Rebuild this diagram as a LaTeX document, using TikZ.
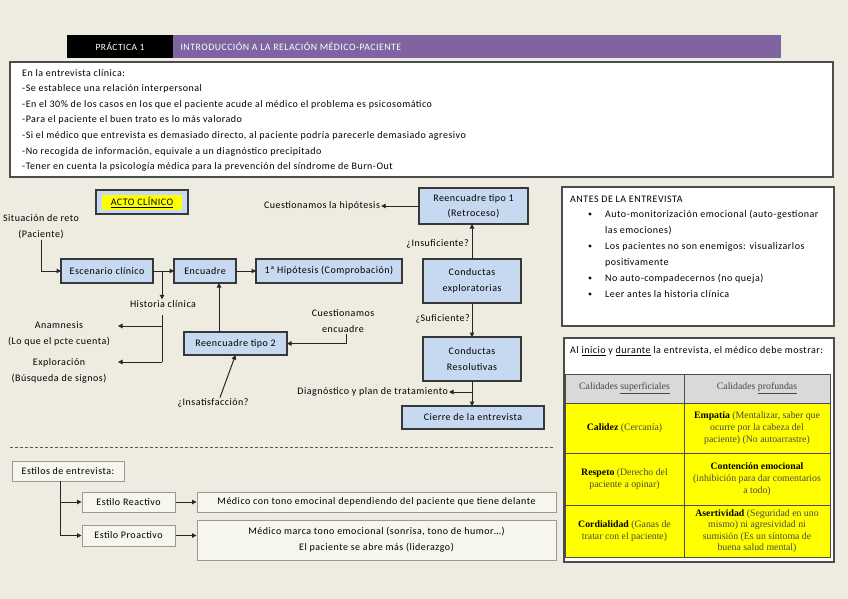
\documentclass[tikz,border=0pt]{standalone}
\usepackage{fontspec}
\setmainfont{Carlito}[LetterSpace=5]
\newfontfamily\tnr{Liberation Serif}
\usetikzlibrary{arrows.meta,calc}
\definecolor{bgc}{HTML}{EEECE1}
\definecolor{boxblue}{HTML}{C6D9F1}
\definecolor{hpurple}{HTML}{8064A2}
\definecolor{tgrey}{HTML}{D9D9D9}
\definecolor{ylw}{HTML}{FFFF00}
\newcommand\bx[7]{\node[#7, minimum width={(#4-#2)*1pt}, minimum height={(#5-#3)*1pt}] (#1) at ({(#2+#4)/2},{(#3+#5)/2}) {#6};}
\newcommand\bk[1]{\textcolor{black}{\textbf{#1}}}
\begin{document}
\begin{tikzpicture}[x=1pt,y=-1pt, font=\fontsize{10}{12}\selectfont,
  bluebox/.style={draw=black!78, fill=boxblue, line width=1.2pt, inner sep=0pt, outer sep=0pt, align=center},
  whitebox/.style={draw=black!70, fill=white, line width=1.1pt, inner sep=0pt},
  greybox/.style={draw=black!40, fill=white!45!bgc, line width=1pt, inner sep=0pt, align=center},
  cell/.style={draw=black!70, line width=0.8pt, inner sep=0pt, align=center, text=black!72, font=\tnr\fontsize{9.8}{12}\selectfont},
  arr/.style={-{Triangle[length=4.5pt,width=4.5pt]}, line width=1pt, draw=black!85},
  ln/.style={line width=1pt, draw=black!85},
  lbl/.style={inner sep=1pt, align=center},
  lines/.style={inner sep=1pt, align=center, font=\fontsize{10}{16}\selectfont},
  lines2/.style={font=\fontsize{10}{16.5}\selectfont}
]
\useasboundingbox (0,0) rectangle (848,599);
\fill[bgc] (0,0) rectangle (848,599);

% header
\bx{hdrA}{67}{35}{173}{58}{}{fill=black, inner sep=0pt}
\bx{hdrB}{173}{35}{781}{58}{}{fill=hpurple, inner sep=0pt}
\node[text=white, font=\fontsize{9.5}{10}\selectfont] (hdrAt) at (hdrA) {PRÁCTICA 1};
\node[text=white, anchor=west, font=\fontsize{9.8}{10}\selectfont] (hdrBt) at (177,46.5) {INTRODUCCIÓN A LA RELACIÓN MÉDICO-PACIENTE};

% intro box
\bx{intro}{10}{62}{833}{177}{}{whitebox}
\foreach \t [count=\i] in {{En la entrevista clínica:},
  {-Se establece una relación interpersonal},
  {-En el 30\% de los casos en los que el paciente acude al médico el problema es psicosomático},
  {-Para el paciente el buen trato es lo más valorado},
  {-Si el médico que entrevista es demasiado directo, al paciente podría parecerle demasiado agresivo},
  {-No recogida de información, equivale a un diagnóstico precipitado},
  {-Tener en cuenta la psicología médica para la prevención del síndrome de Burn-Out}}
  \node[anchor=base west, inner sep=0pt] (l\i) at (22,{76.5+15.5*(\i-1)}) {\t};

% acto clinico
\bx{acto}{96}{190}{188}{214}{}{bluebox}
\bx{actoy}{102}{195}{182}{210}{\underline{ACTO CLÍNICO}}{fill=ylw, inner sep=0pt}

\node[lines] (sit) at (41,227) {Situación de reto\\(Paciente)};
\bx{esc}{61}{259}{153}{283}{Escenario clínico}{bluebox}
\bx{enc}{174}{259}{236}{283}{Encuadre}{bluebox}
\bx{hip}{256}{259}{402}{283}{1ª Hipótesis (Comprobación)}{bluebox}
\draw[arr] (sit.south) |- (esc.west);
\draw[arr] (esc) -- (enc);
\draw[arr] (enc) -- (hip);

\coordinate (hb) at (162,271);
\node[lbl] (hist) at (163,304) {Historia clínica};
\draw[arr] (hb) -- (hb |- hist.north);
\coordinate (hv1) at (162,315);
\coordinate (ha) at (162,326);
\coordinate (hv2) at (162,362);
\coordinate (tipx) at (118,0);
\draw[ln] (hv1) -- (hv2);
\node[lines] (anam) at (59,334) {Anamnesis\\(Lo que el pcte cuenta)};
\node[lines] (expl) at (59,370.5) {Exploración\\(Búsqueda de signos)};
\draw[arr] (ha) -- (ha -| tipx);
\draw[arr] (hv2) -- (hv2 -| tipx);

\bx{re2}{184}{332}{287}{355}{Reencuadre tipo 2}{bluebox}
\coordinate (r2u) at (219,332);
\draw[arr] (r2u) -- (r2u |- enc.south);
\node[lbl] (insat) at (213,403) {¿Insatisfacción?};
\draw[arr] ([xshift=7pt]insat.north) -- (re2.south);
\node[lines] (cenc) at (343,321.5) {Cuestionamos\\encuadre};
\draw[arr] ([xshift=3pt]cenc.south) |- (re2.east);

% right column of flow
\bx{re1}{419}{188}{528}{224}{Reencuadre tipo 1\\(Retroceso)}{bluebox, font=\fontsize{10}{15.5}\selectfont}
\node[lbl] (chip) at (322,206) {Cuestionamos la hipótesis};
\draw[arr] (re1.west) -- (re1.west -| chip.east);
\bx{cexp}{423}{259}{521}{303}{Conductas\\exploratorias}{bluebox, lines2}
\draw[arr] (cexp.north) -- (cexp.north |- re1.south);
\node[lbl, anchor=east] (insu) at (470,244) {¿Insuficiente?};
\bx{cres}{423}{337}{521}{381}{Conductas\\Resolutivas}{bluebox, lines2}
\draw[arr] (cexp) -- (cres);
\node[lbl, anchor=east] (sufi) at (471,319) {¿Suficiente?};
\bx{cierre}{402}{406}{544}{429}{Cierre de la entrevista}{bluebox}
\draw[arr] (cres.south) -- (cres.south |- cierre.north);
\coordinate (db) at (472,392);
\node[lbl, anchor=east] (diag) at (449,392) {Diagnóstico y plan de tratamiento};
\draw[arr] (db) -- (diag.east);

% dashed separator
\coordinate (d1) at (10,447);
\coordinate (d2) at (553,447);
\draw[draw=black!65, line width=0.7pt, dash pattern=on 3pt off 2pt] (d1) -- (d2);

% antes box
\bx{antes}{562}{187}{834}{326}{}{whitebox}
\node[anchor=base west, inner sep=0pt] (antt) at (570,202.5) {ANTES DE LA ENTREVISTA};
\foreach \t/\yy [count=\i] in {{Auto-monitorización emocional (auto-gestionar}/214,
  {las emociones)}/230, {Los pacientes no son enemigos: visualizarlos}/246,
  {positivamente}/262, {No auto-compadecernos (no queja)}/278, {Leer antes la historia clínica}/294}
  \node[anchor=base west, inner sep=0pt] (al\i) at (605,{\yy+3.5}) {\t};
\foreach \yy [count=\i] in {214,246,278,294}
  \node[circle, fill=black, inner sep=0pt, minimum size=3.4pt] (bu\i) at (590,\yy) {};

% table box
\bx{tbox}{564}{338}{834}{562}{}{whitebox}
\node[anchor=base west, inner sep=0pt] (tt) at (570,353.5) {Al \underline{inicio} y \underline{durante} la entrevista, el médico debe mostrar:};
\bx{c11}{565}{374}{684}{403}{Calidades \underline{superficiales}}{cell, fill=tgrey}
\bx{c12}{684}{374}{830}{403}{Calidades \underline{profundas}}{cell, fill=tgrey}
\bx{c21}{565}{403}{684}{453}{\bk{Calidez} (Cercanía)}{cell, fill=ylw}
\bx{c22}{684}{403}{830}{453}{\bk{Empatía} (Mentalizar, saber que\\ocurre por la cabeza del\\paciente) (No autoarrastre)}{cell, fill=ylw}
\bx{c31}{565}{453}{684}{505}{\bk{Respeto} (Derecho del\\paciente a opinar)}{cell, fill=ylw}
\bx{c32}{684}{453}{830}{505}{\bk{Contención emocional}\\(inhibición para dar comentarios\\a todo)}{cell, fill=ylw}
\bx{c41}{565}{505}{684}{557}{\bk{Cordialidad} (Ganas de\\tratar con el paciente)}{cell, fill=ylw}
\bx{c42}{684}{505}{830}{557}{\bk{Asertividad} (Seguridad en uno\\mismo) ni agresividad ni\\sumisión (Es un síntoma de\\buena salud mental)}{cell, fill=ylw, font=\tnr\fontsize{9.8}{11.3}\selectfont}

% estilos
\bx{estilos}{12}{461}{124}{481}{Estilos de entrevista:}{greybox}
\bx{reac}{82}{492}{175}{512}{Estilo Reactivo}{greybox}
\bx{proa}{82}{525}{175}{546}{Estilo Proactivo}{greybox}
\bx{med1}{197}{492}{556}{512}{Médico con tono emocinal dependiendo del paciente que tiene delante}{greybox}
\bx{med2}{197}{520}{556}{560}{Médico marca tono emocional (sonrisa, tono de humor…)\\El paciente se abre más (liderazgo)}{greybox, font=\fontsize{10}{16}\selectfont}
\coordinate (ev) at (60,481);
\draw[arr] (ev) |- (reac.west);
\draw[arr] (ev) |- (proa.west);
\draw[arr] (reac) -- (med1);
\draw[arr] (proa.east) -- (proa.east -| med2.west);
\end{tikzpicture}
\end{document}
